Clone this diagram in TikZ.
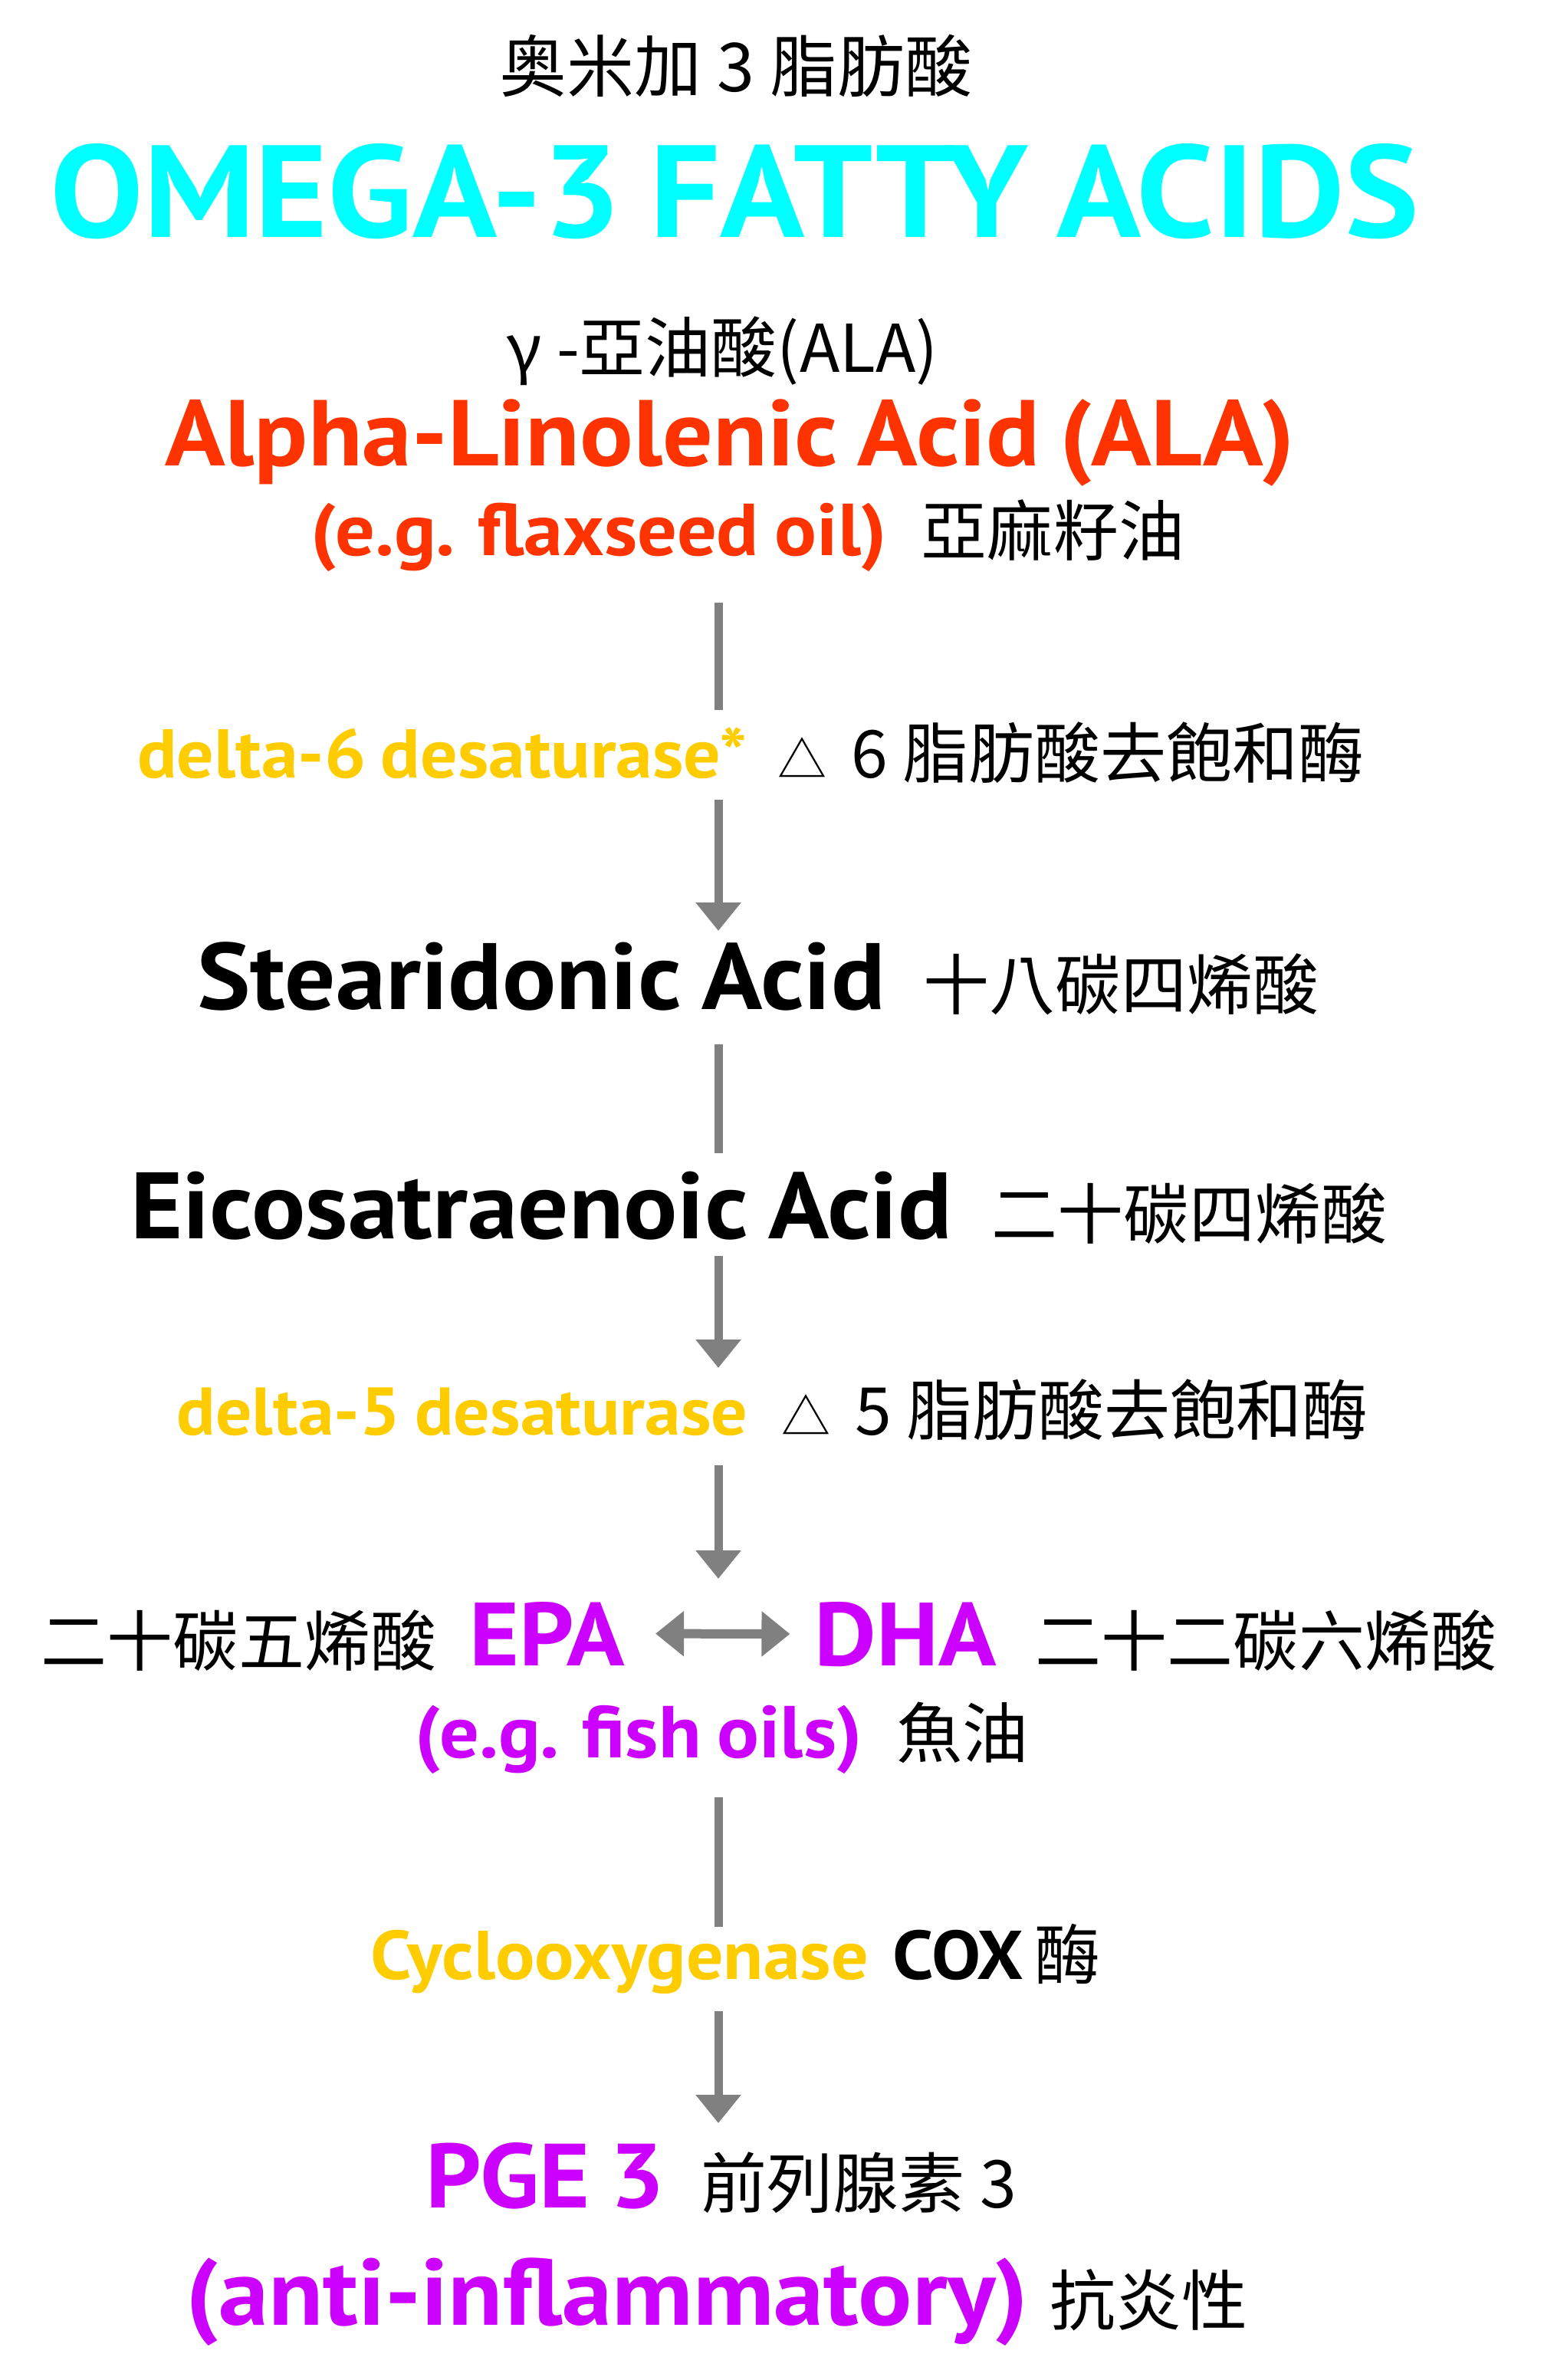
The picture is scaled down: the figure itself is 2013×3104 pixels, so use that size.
\documentclass[tikz,border=0pt]{standalone}
\usepackage{fontspec}
\usetikzlibrary{positioning,arrows.meta}
\newfontfamily\engfont{PT Sans}[FakeStretch=1.065,WordSpace=0.8]
\newfontfamily\cjk{Noto Sans CJK TC}
\newcommand\deltasign{{\fontsize{64}{64}\selectfont △}\hspace{32pt}}
\definecolor{omegacyan}{RGB}{0,255,255}
\definecolor{alared}{RGB}{255,51,0}
\definecolor{enzymeyellow}{RGB}{255,204,0}
\definecolor{epapurple}{RGB}{204,0,255}
\definecolor{linkgray}{RGB}{128,128,128}

\begin{document}
\begin{tikzpicture}[x=1pt,y=-1pt,
  every node/.style={inner sep=0pt,outer sep=0pt,anchor=base},
  eng/.style={font=\engfont\bfseries\fontsize{#1}{#1}\selectfont},
  cn/.style={font=\cjk\fontsize{86}{86}\selectfont},
  link/.style={draw=linkgray,line width=11pt},
  flow/.style={link,-{Triangle[width=57pt,length=37pt]}}]
  \useasboundingbox (0,0) rectangle (2013,3104);
  \coordinate (axis) at (937,0);

  % headings
  \node[cn,font=\cjk\fontsize{88}{88}\selectfont] (omegacn) at (960,120) {奥米加 3 脂肪酸};
  \node[eng=171,text=omegacyan] (omega) at (958,309) {OMEGA-3 FATTY ACIDS};
  \node[cn] (alacn) at (942,485) {γ -亞油酸(ALA)};
  \node[eng=122,text=alared] (ala) at (952,607) {Alpha-Linolenic Acid (ALA)};
  \node[eng=96,text=alared] (flax) at (781,724) {(e.g. flaxseed oil)};
  \node[cn,base right=45pt of flax] (flaxcn) {亞麻籽油};

  % enzymes and acids
  \node[eng=90,text=enzymeyellow] (d6) at (577,1014) {delta-6 desaturase*};
  \node[cn,base right=40pt of d6] (d6cn) {\deltasign 6 脂肪酸去飽和酶};
  \node[eng=123] (sda) at (706,1316) {Stearidonic Acid};
  \node[cn,base right=50pt of sda] (sdacn) {十八碳四烯酸};
  \node[eng=123] (eico) at (706,1615) {Eicosatraenoic Acid};
  \node[cn,base right=52pt of eico] (eicocn) {二十碳四烯酸};
  \node[eng=88,text=enzymeyellow] (d5) at (603,1871) {delta-5 desaturase};
  \node[cn,base right=44pt of d5] (d5cn) {\deltasign 5 脂肪酸去飽和酶};

  % EPA and DHA
  \node[eng=117,text=epapurple] (epa) at (714,2172) {EPA};
  \node[cn,base left=43pt of epa] (epacn) {二十碳五烯酸};
  \node[eng=117,text=epapurple] (dha) at (1181,2172) {DHA};
  \node[cn,base right=51pt of dha] (dhacn) {二十二碳六烯酸};
  \node[eng=96,text=epapurple] (fish) at (833,2292) {(e.g. fish oils)};
  \node[cn,base right=45pt of fish] (fishcn) {魚油};

  % COX
  \node[eng=90,text=enzymeyellow] (cox) at (808,2581) {Cyclooxygenase};
  \node[eng=90,base right=32pt of cox] (coxabbr) {COX};
  \node[cn,base right=15pt of coxabbr] (coxcn) {酶};
  \node[eng=119,text=epapurple] (pge) at (711,2879) {PGE 3};
  \node[cn,base right=48pt of pge] (pgecn) {前列腺素 3};
  \node[eng=123,text=epapurple] (anti) at (792,3032) {(anti-inflammatory)};
  \node[cn,base right=28pt of anti] (anticn) {抗炎性};

  % connectors
  \draw[link,shorten <=62pt,shorten >=88pt] (flax.base -| axis) -- (d6.base -| axis);
  \draw[flow,shorten <=29pt,shorten >=102pt] (d6.base -| axis) -- (sda.base -| axis);
  \draw[link,shorten <=46pt,shorten >=111pt] (sda.base -| axis) -- (eico.base -| axis);
  \draw[flow,shorten <=23pt,shorten >=87pt] (eico.base -| axis) -- (d5.base -| axis);
  \draw[flow,shorten <=40pt,shorten >=113pt] (d5.base -| axis) -- (epa.base -| axis);
  \draw[link,line width=12pt,{Triangle[width=57pt,length=37pt]}-{Triangle[width=57pt,length=37pt]},
    shorten <=40pt,shorten >=32pt] (epa.east) -- (dha.west);
  \draw[link,shorten <=52pt,shorten >=68pt] (fish.base -| axis) -- (cox.base -| axis);
  \draw[flow,shorten <=42pt,shorten >=110pt] (cox.base -| axis) -- (pge.base -| axis);
\end{tikzpicture}
\end{document}
